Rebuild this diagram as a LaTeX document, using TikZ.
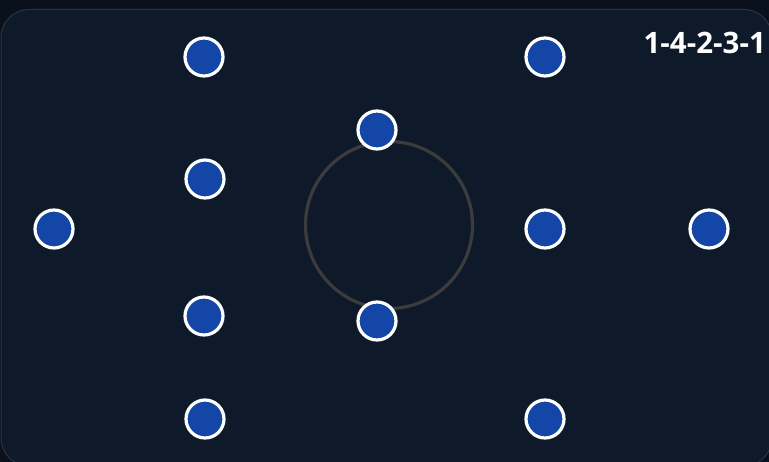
\documentclass[tikz,border=0pt]{standalone}
\usepackage{fontspec}
\setmainfont{Open Sans}
\definecolor{outerbg}{HTML}{0A101C}
\definecolor{panelbg}{HTML}{0E1A2A}
\definecolor{panelline}{HTML}{2A3340}
\definecolor{dotblue}{HTML}{1446A8}
\definecolor{ringgray}{HTML}{3C3C3C}
\tikzset{
  player/.style={circle, fill=dotblue, draw=white, line width=3.2pt, minimum size=38pt, inner sep=0pt},
  ring/.style={draw=ringgray, line width=3.2pt},
  label/.style={text=white, font=\bfseries\fontsize{29.5pt}{31pt}\selectfont, inner sep=0pt}
}
\begin{document}
\begin{tikzpicture}[x=1pt,y=-1pt]
\useasboundingbox (0,0) rectangle (769,462);
\fill[outerbg] (0,0) rectangle (769,462);
\begin{scope}
\clip (0,0) rectangle (769,462);
\draw[fill=panelbg, draw=panelline, line width=1pt, rounded corners=28pt] (1,9.5) rectangle (772,466);
\end{scope}
\draw[ring] (389,225) circle[radius=83.5];
\node[player] (p1) at (204,57) {};
\node[player] (p2) at (545,57) {};
\node[player] (p3) at (377,130) {};
\node[player] (p4) at (205,179) {};
\node[player] (p5) at (54,229) {};
\node[player] (p6) at (545,229) {};
\node[player] (p7) at (709,229) {};
\node[player] (p8) at (204,316) {};
\node[player] (p9) at (377,321) {};
\node[player] (p10) at (205,419) {};
\node[player] (p11) at (545,419) {};
\node[label, anchor=base east] (form) at (766,54) {1-4-2-3-1};
\end{tikzpicture}
\end{document}
